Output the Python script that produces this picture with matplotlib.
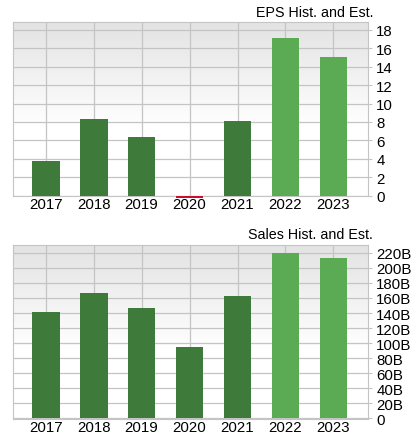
import numpy as np
import matplotlib
matplotlib.use("Agg")
import matplotlib.pyplot as plt

plt.rcParams['font.family'] = ['Liberation Sans', 'DejaVu Sans']

# data
years = ["2017", "2018", "2019", "2020", "2021", "2022", "2023"]
eps = [3.73, 8.28, 6.33, -0.25, 8.14, 17.1, 15.04]
sales = [141.7, 166.2, 146.2, 94.2, 162.7, 219.6, 212.9]   # billions
is_estimate = [False, False, False, False, False, True, True]

dark_green = "#3e7a3a"
light_green = "#5bab55"
red = "#c8102e"
grid_col = "#c4c4c4"


def bar_colors(values):
    cols = []
    for v, est in zip(values, is_estimate):
        if v < 0:
            cols.append(red)
        elif est:
            cols.append(light_green)
        else:
            cols.append(dark_green)
    return cols


def style_axes(ax, title, title_y):
    # gray at the top fading to white around the middle
    grad = np.linspace(0, 1, 256).reshape(-1, 1)
    shade = np.clip(grad / 0.6, 0, 1)
    img = np.dstack([0.89 + 0.11 * shade] * 3)
    ax.imshow(img, extent=[0, 1, 0, 1], transform=ax.transAxes,
              aspect="auto", zorder=0)
    ax.set_xlim(-0.68, 6.72)
    ax.set_xticks(range(len(years)))
    ax.set_xticklabels(years, fontsize=10.8)
    ax.tick_params(axis="x", length=0, pad=1)
    ax.yaxis.tick_right()
    ax.tick_params(axis="y", length=3, color=grid_col, pad=3, labelsize=10.8)
    ax.grid(True, color=grid_col, linewidth=0.9, zorder=1)
    ax.set_axisbelow(True)
    for s in ax.spines.values():
        s.set_color(grid_col)
    ax.figure.text(373 / 419, title_y, title, ha="right", va="center",
                   fontsize=10.3)


fig = plt.figure(figsize=(4.19, 4.35), dpi=100)

ax1 = fig.add_axes([13 / 419, 1 - 197 / 435, 355 / 419, 174 / 435])
ax1.bar(range(len(years)), eps, width=0.58, color=bar_colors(eps),
        zorder=3, clip_on=False)
ax1.set_ylim(-0.04, 18.85)
ax1.set_yticks(range(0, 19, 2))
style_axes(ax1, "EPS Hist. and Est.", 1 - 13 / 435)

ax2 = fig.add_axes([13 / 419, 1 - 420 / 435, 355 / 419, 174.3 / 435])
ax2.bar(range(len(years)), sales, width=0.58, color=bar_colors(sales),
        zorder=3)
ax2.set_ylim(-1.2, 231)
ax2.set_yticks(range(0, 221, 20))
ax2.set_yticklabels(["0"] + [f"{v}B" for v in range(20, 221, 20)])
style_axes(ax2, "Sales Hist. and Est.", 1 - 235 / 435)

fig.savefig("out.png", dpi=100)
